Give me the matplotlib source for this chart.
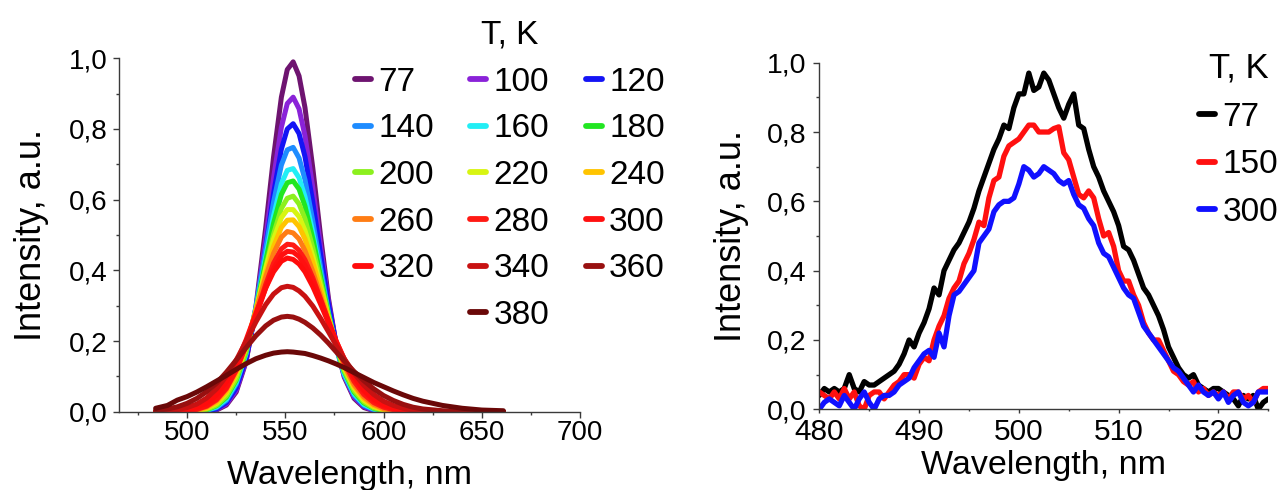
import matplotlib
matplotlib.use("Agg")
import matplotlib.pyplot as plt
from matplotlib.lines import Line2D
from matplotlib.ticker import FixedLocator, FixedFormatter, MultipleLocator

plt.rcParams['font.family'] = ['Liberation Sans', 'DejaVu Sans']

# ---------------- left panel: temperature series of PL spectra ----------------
wl_left = [484, 490, 495, 500, 505, 510, 515, 520, 525, 530, 535, 540, 544, 548,
           551, 554, 557, 560, 564, 568, 572, 576, 580, 585, 590, 595, 600, 605,
           610, 615, 620, 630, 640, 650, 661]

i_77 = [0, 0, 0, 0, 0, 0.001, 0.005, 0.019, 0.056, 0.141, 0.295, 0.520, 0.720, 0.890,
        0.968, 0.990, 0.950, 0.861, 0.689, 0.495, 0.320, 0.187, 0.098, 0.038, 0.012,
        0.003, 0.001, 0, 0, 0, 0, 0, 0, 0, 0]
i_100 = [0, 0, 0, 0, 0, 0.002, 0.007, 0.022, 0.061, 0.144, 0.288, 0.489, 0.661, 0.805,
         0.872, 0.890, 0.857, 0.781, 0.634, 0.466, 0.310, 0.187, 0.102, 0.042, 0.015,
         0.004, 0.001, 0, 0, 0, 0, 0, 0, 0, 0]
i_120 = [0, 0, 0, 0, 0.001, 0.002, 0.008, 0.026, 0.067, 0.149, 0.284, 0.465, 0.617, 0.743,
         0.800, 0.815, 0.787, 0.722, 0.593, 0.444, 0.304, 0.189, 0.107, 0.047, 0.017,
         0.006, 0.002, 0, 0, 0, 0, 0, 0, 0, 0]
i_140 = [0, 0, 0, 0, 0.001, 0.004, 0.012, 0.032, 0.078, 0.163, 0.295, 0.461, 0.593, 0.698,
         0.741, 0.748, 0.718, 0.657, 0.540, 0.408, 0.282, 0.179, 0.104, 0.047, 0.018,
         0.006, 0.002, 0.001, 0, 0, 0, 0, 0, 0, 0]
i_160 = [0, 0, 0, 0, 0.001, 0.005, 0.014, 0.036, 0.083, 0.165, 0.287, 0.437, 0.554, 0.645,
         0.683, 0.688, 0.662, 0.609, 0.507, 0.389, 0.275, 0.180, 0.108, 0.051, 0.021,
         0.008, 0.002, 0.001, 0, 0, 0, 0, 0, 0, 0]
i_180 = [0, 0, 0, 0.001, 0.002, 0.006, 0.017, 0.041, 0.089, 0.170, 0.287, 0.426, 0.533, 0.615,
         0.648, 0.653, 0.630, 0.582, 0.490, 0.382, 0.275, 0.184, 0.114, 0.056, 0.025,
         0.010, 0.003, 0.001, 0, 0, 0, 0, 0, 0, 0]
i_200 = [0, 0, 0, 0.001, 0.002, 0.007, 0.019, 0.045, 0.093, 0.172, 0.281, 0.407, 0.502, 0.575,
         0.604, 0.610, 0.588, 0.546, 0.464, 0.367, 0.269, 0.184, 0.117, 0.060, 0.028,
         0.011, 0.004, 0.001, 0, 0, 0, 0, 0, 0, 0]
i_220 = [0, 0, 0, 0.001, 0.003, 0.010, 0.024, 0.053, 0.104, 0.183, 0.288, 0.404, 0.488, 0.549,
         0.572, 0.572, 0.552, 0.513, 0.440, 0.354, 0.266, 0.188, 0.124, 0.068, 0.033,
         0.015, 0.006, 0.002, 0.001, 0, 0, 0, 0, 0, 0]
i_240 = [0, 0, 0, 0.002, 0.004, 0.011, 0.027, 0.057, 0.108, 0.185, 0.283, 0.390, 0.467, 0.522,
         0.542, 0.543, 0.524, 0.489, 0.423, 0.344, 0.263, 0.189, 0.128, 0.072, 0.037,
         0.017, 0.007, 0.003, 0.001, 0, 0, 0, 0, 0, 0]
i_260 = [0, 0, 0.001, 0.002, 0.006, 0.014, 0.032, 0.064, 0.117, 0.191, 0.284, 0.381, 0.448, 0.494,
         0.510, 0.506, 0.489, 0.456, 0.397, 0.327, 0.255, 0.188, 0.131, 0.077, 0.042,
         0.021, 0.009, 0.004, 0.001, 0.001, 0, 0, 0, 0, 0]
i_280 = [0, 0, 0.001, 0.003, 0.007, 0.016, 0.034, 0.066, 0.117, 0.188, 0.273, 0.360, 0.420, 0.461,
         0.474, 0.472, 0.457, 0.430, 0.379, 0.318, 0.253, 0.192, 0.139, 0.086, 0.049,
         0.026, 0.013, 0.006, 0.002, 0.001, 0, 0, 0, 0, 0]
i_300 = [0, 0, 0.001, 0.003, 0.008, 0.018, 0.038, 0.070, 0.121, 0.188, 0.269, 0.350, 0.405, 0.442,
         0.454, 0.452, 0.439, 0.415, 0.370, 0.315, 0.257, 0.199, 0.148, 0.096, 0.058,
         0.032, 0.017, 0.008, 0.004, 0.002, 0.001, 0, 0, 0, 0]
i_320 = [0, 0.001, 0.002, 0.005, 0.012, 0.025, 0.048, 0.085, 0.137, 0.203, 0.278, 0.350, 0.396, 0.426,
         0.435, 0.431, 0.418, 0.396, 0.354, 0.304, 0.251, 0.198, 0.150, 0.100, 0.062,
         0.036, 0.020, 0.010, 0.005, 0.002, 0.001, 0, 0, 0, 0]
i_340 = [0.001, 0.003, 0.006, 0.012, 0.022, 0.039, 0.065, 0.101, 0.146, 0.199, 0.254, 0.303, 0.333, 0.351,
         0.355, 0.352, 0.342, 0.327, 0.299, 0.264, 0.226, 0.187, 0.150, 0.109, 0.075,
         0.049, 0.030, 0.018, 0.010, 0.005, 0.003, 0.001, 0, 0, 0]
i_360 = [0.004, 0.008, 0.014, 0.024, 0.038, 0.057, 0.081, 0.112, 0.146, 0.181, 0.215, 0.243, 0.259, 0.268,
         0.270, 0.268, 0.262, 0.253, 0.237, 0.217, 0.194, 0.169, 0.144, 0.114, 0.088,
         0.065, 0.046, 0.032, 0.021, 0.013, 0.008, 0.003, 0.001, 0.001, 0]
i_380 = [0.010, 0.018, 0.033, 0.043, 0.056, 0.071, 0.087, 0.103, 0.120, 0.136, 0.150, 0.160, 0.166, 0.169,
         0.170, 0.169, 0.167, 0.165, 0.159, 0.152, 0.144, 0.135, 0.125, 0.111, 0.097,
         0.083, 0.071, 0.059, 0.048, 0.038, 0.030, 0.018, 0.010, 0.005, 0.003]

temps_left = [77, 100, 120, 140, 160, 180, 200, 220, 240, 260, 280, 300, 320, 340, 360, 380]
series_left = [i_77, i_100, i_120, i_140, i_160, i_180, i_200, i_220, i_240, i_260,
               i_280, i_300, i_320, i_340, i_360, i_380]
colors_left = ['#6e1470', '#8a22d8', '#1414f5', '#1e8cff', '#22eef5', '#22e622',
               '#8cf01e', '#d8f512', '#ffc400', '#ff7d14', '#ff1a14', '#ff1010',
               '#ff0c0c', '#c81212', '#981010', '#6a0808']

# legend layout: rows of the key table (None = empty cell)
legend_rows = [[77, 100, 120], [140, 160, 180], [200, 220, 240],
               [260, 280, 300], [320, 340, 360], [None, 380, None]]

# ---------------- right panel: three temperatures ----------------
wl_right = [480.0 + 0.5 * k for k in range(91)]

r_77 = [0.04, 0.06, 0.05, 0.06, 0.05, 0.06, 0.10, 0.06, 0.05, 0.08,
        0.07, 0.07, 0.08, 0.09, 0.10, 0.11, 0.13, 0.16, 0.20, 0.18,
        0.22, 0.25, 0.29, 0.35, 0.33, 0.40, 0.43, 0.46, 0.48, 0.51,
        0.54, 0.58, 0.63, 0.67, 0.71, 0.75, 0.78, 0.82, 0.81, 0.87,
        0.91, 0.91, 0.97, 0.92, 0.93, 0.97, 0.95, 0.91, 0.87, 0.84,
        0.88, 0.91, 0.82, 0.81, 0.75, 0.70, 0.67, 0.63, 0.60, 0.57,
        0.53, 0.47, 0.46, 0.43, 0.39, 0.35, 0.33, 0.30, 0.27, 0.23,
        0.18, 0.15, 0.12, 0.10, 0.09, 0.10, 0.07, 0.06, 0.05, 0.06,
        0.06, 0.05, 0.04, 0.03, 0.01, 0.04, 0.03, 0.04, 0.00, 0.02,
        0.03]
r_150 = [0.05, 0.04, 0.03, 0.05, 0.03, 0.06, 0.03, 0.05, 0.01, 0.00,
         0.04, 0.05, 0.05, 0.03, 0.05, 0.07, 0.08, 0.10, 0.10, 0.09,
         0.13, 0.15, 0.14, 0.20, 0.24, 0.27, 0.32, 0.35, 0.37, 0.42,
         0.45, 0.49, 0.54, 0.53, 0.61, 0.66, 0.67, 0.73, 0.76, 0.77,
         0.78, 0.80, 0.82, 0.82, 0.80, 0.80, 0.80, 0.81, 0.815, 0.74,
         0.72, 0.67, 0.62, 0.61, 0.63, 0.61, 0.55, 0.50, 0.51, 0.47,
         0.40, 0.37, 0.37, 0.33, 0.30, 0.25, 0.22, 0.20, 0.20, 0.17,
         0.14, 0.11, 0.10, 0.08, 0.07, 0.08, 0.05, 0.06, 0.04, 0.05,
         0.04, 0.05, 0.03, 0.05, 0.05, 0.03, 0.04, 0.02, 0.05, 0.06,
         0.06]
r_300 = [0.00, 0.02, 0.03, 0.02, 0.01, 0.04, 0.02, 0.00, 0.03, 0.05,
         0.02, 0.00, 0.03, 0.04, 0.04, 0.05, 0.07, 0.08, 0.09, 0.12,
         0.14, 0.16, 0.17, 0.15, 0.22, 0.18, 0.27, 0.33, 0.34, 0.36,
         0.38, 0.40, 0.48, 0.50, 0.52, 0.57, 0.59, 0.60, 0.60, 0.61,
         0.65, 0.70, 0.69, 0.67, 0.68, 0.70, 0.69, 0.68, 0.66, 0.65,
         0.66, 0.62, 0.59, 0.58, 0.55, 0.53, 0.48, 0.45, 0.44, 0.41,
         0.38, 0.35, 0.33, 0.32, 0.28, 0.24, 0.22, 0.20, 0.18, 0.16,
         0.14, 0.12, 0.11, 0.09, 0.07, 0.05, 0.07, 0.05, 0.04, 0.05,
         0.03, 0.05, 0.02, 0.04, 0.05, 0.02, 0.01, 0.02, 0.05, 0.05,
         0.05]

temps_right = [77, 150, 300]
series_right = [r_77, r_150, r_300]
colors_right = ['#000000', '#ff1010', '#1010ff']

y_ticks = [0.0, 0.2, 0.4, 0.6, 0.8, 1.0]
y_ticklabels = ['0,0', '0,2', '0,4', '0,6', '0,8', '1,0']
x_ticks_left = [500, 550, 600, 650, 700]
x_ticks_right = [480, 490, 500, 510, 520]

AXIS_COLOR = '#3a3a3a'
FIG_W, FIG_H = 1282, 490

fig = plt.figure(figsize=(FIG_W / 100, FIG_H / 100), dpi=100)
ax1 = fig.add_axes([119.3 / FIG_W, (FIG_H - 411.8) / FIG_H, 460.7 / FIG_W, 353.5 / FIG_H])
ax2 = fig.add_axes([819.3 / FIG_W, (FIG_H - 409.3) / FIG_H, 449.0 / FIG_W, 346.6 / FIG_H])


def style_axes(ax, xsize, ysize, xpad, ypad, xlen):
    for side in ('top', 'right'):
        ax.spines[side].set_visible(False)
    for side in ('left', 'bottom'):
        ax.spines[side].set_color(AXIS_COLOR)
        ax.spines[side].set_linewidth(1.0)
    ax.tick_params(which='both', direction='out', color=AXIS_COLOR, width=1.0)
    ax.tick_params(axis='y', which='major', length=4.4, pad=ypad, labelsize=ysize)
    ax.tick_params(axis='y', which='minor', length=2.4)
    ax.tick_params(axis='x', which='major', length=xlen, pad=xpad, labelsize=xsize)
    ax.tick_params(axis='x', which='minor', length=xlen * 0.55)
    ax.yaxis.set_major_locator(FixedLocator(y_ticks))
    ax.yaxis.set_major_formatter(FixedFormatter(y_ticklabels))
    ax.yaxis.set_minor_locator(MultipleLocator(0.1))
    ax.set_ylim(0, 1.0)


# left panel
for t, y, c in zip(temps_left, series_left, colors_left):
    ax1.plot(wl_left, y, color=c, lw=3.6, solid_joinstyle='round', solid_capstyle='round')
ax1.set_xlim(465.5, 700)
ax1.xaxis.set_major_locator(FixedLocator(x_ticks_left))
ax1.xaxis.set_minor_locator(MultipleLocator(25))
style_axes(ax1, 20, 20, 1.5, 4.0, 4.2)
ax1.set_xlabel('Wavelength, nm', fontsize=24.5)
ax1.set_ylabel('Intensity, a.u.', fontsize=26)
ax1.xaxis.set_label_coords(0.5, -0.136)
ax1.yaxis.set_label_coords(-0.152, 0.5)

color_of = dict(zip(temps_left, colors_left))
n_rows = len(legend_rows)
handles, labels = [], []
for col in range(3):
    for row in range(n_rows):
        t = legend_rows[row][col]
        if t is None:
            handles.append(Line2D([], [], color='none', lw=0))
            labels.append(' ')
        else:
            handles.append(Line2D([], [], color=color_of[t], lw=4.2, solid_capstyle='round'))
            labels.append(str(t))
leg1 = ax1.legend(handles, labels, ncol=3, loc='upper left',
                  bbox_to_anchor=(355 / FIG_W, 1 - 20 / FIG_H), bbox_transform=fig.transFigure,
                  frameon=False, fontsize=24, title='T, K', title_fontsize=24,
                  handlelength=0.48, handletextpad=0.22, columnspacing=1.09,
                  labelspacing=0.47, borderpad=0, borderaxespad=0)

# right panel
for t, y, c in zip(temps_right, series_right, colors_right):
    ax2.plot(wl_right, y, color=c, lw=3.8, solid_joinstyle='round', solid_capstyle='round')
ax2.set_xlim(480, 525)
ax2.xaxis.set_major_locator(FixedLocator(x_ticks_right))
ax2.xaxis.set_minor_locator(MultipleLocator(5))
style_axes(ax2, 21.5, 20.5, 3.0, 5.0, 3.0)
ax2.set_xlabel('Wavelength, nm', fontsize=24.5)
ax2.set_ylabel('Intensity, a.u.', fontsize=26)
ax2.xaxis.set_label_coords(0.5, -0.118)
ax2.yaxis.set_label_coords(-0.157, 0.5)

handles2 = [Line2D([], [], color=c, lw=4.2, solid_capstyle='round') for c in colors_right]
leg2 = ax2.legend(handles2, [str(t) for t in temps_right], loc='upper left',
                  bbox_to_anchor=(1199 / FIG_W, 1 - 52 / FIG_H), bbox_transform=fig.transFigure,
                  frameon=False, fontsize=24, title='T, K', title_fontsize=25,
                  handlelength=0.48, handletextpad=0.22, labelspacing=0.5,
                  borderpad=0, borderaxespad=0)

fig.savefig('out.png', dpi=100)
